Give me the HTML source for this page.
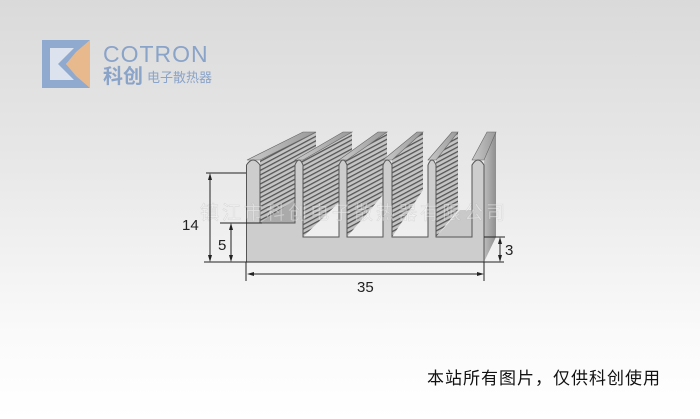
<!DOCTYPE html>
<html><head><meta charset="utf-8"><style>
html,body{margin:0;padding:0}
body{width:700px;height:419px;overflow:hidden;background:linear-gradient(#dadada 0%,#e8e8e8 40%,#fafafa 80%,#ffffff 100%);font-family:"Liberation Sans","Noto Sans CJK SC",sans-serif;position:relative}
</style></head><body>
<svg width="700" height="419" viewBox="0 0 700 419" style="position:absolute;left:0;top:0">
<defs>
<pattern id="rib" patternUnits="userSpaceOnUse" width="4" height="4" patternTransform="rotate(-28)">
<rect width="4" height="4" fill="#c4c4c4"/><rect width="4" height="1.3" fill="#555"/>
</pattern>
<linearGradient id="top" x1="0" y1="0" x2="1" y2="0"><stop offset="0" stop-color="#c8c8c8"/><stop offset="1" stop-color="#9a9a9a"/></linearGradient>
<linearGradient id="rside" x1="0" y1="0" x2="1" y2="0"><stop offset="0" stop-color="#bdbdbd"/><stop offset="1" stop-color="#8e8e8e"/></linearGradient>
</defs>
<!-- logo -->
<polygon points="42,40 90,40 66,64 90,88 42,88" fill="#8fa9cf"/>
<polygon points="50,48 74,48 58,64 74,80 50,80" fill="#dde3ee"/>
<polygon points="76,52 90,40 90,88 76,76 66,64" fill="#e8b98d"/>
<text x="103" y="62" font-size="23" fill="#8aa3c8" font-family="Liberation Sans,sans-serif" letter-spacing="1">COTRON</text>
<text x="103" y="83" font-size="20" font-weight="bold" fill="#8aa3c8" font-family="Liberation Sans,'Noto Sans CJK SC',sans-serif">科创</text>
<text x="147" y="82" font-size="13" fill="#8aa3c8" font-family="Liberation Sans,'Noto Sans CJK SC',sans-serif">电子散热器</text>

<!-- back / base surfaces -->
<polygon points="260,223 295,223 295,196 260,196" fill="#aaa"/>
<polygon points="303,237 484,237 496,210 460,210 436,237" fill="#c9c9c9"/>
<!-- side ribbed faces -->
<polygon points="260,160 316,132 316,186 260,223" fill="url(#rib)"/>
<polygon points="303,160 352,132 352,190 303,237" fill="url(#rib)"/>
<polygon points="347,160 387,132 387,190 347,237" fill="url(#rib)"/>
<polygon points="392,160 423,132 423,190 392,237" fill="url(#rib)"/>
<polygon points="436,160 458,132 458,210 436,237" fill="url(#rib)"/>
<polygon points="484,160 496,132 496,237 484,262" fill="url(#rside)"/>
<!-- top faces -->
<g stroke="#666" stroke-width="0.6">
<polygon points="247,160 303,132 316,132 260,160" fill="url(#top)"/>
<polygon points="295,160 343,132 352,132 303,160" fill="url(#top)"/>
<polygon points="339,160 378,132 387,132 347,160" fill="url(#top)"/>
<polygon points="383,160 417,132 423,132 392,160" fill="url(#top)"/>
<polygon points="428,160 452,132 458,132 436,160" fill="url(#top)"/>
<polygon points="472,160 487,132 496,132 484,160" fill="url(#top)"/>
</g>
<!-- front face -->
<path d="M246.5,262 L246.5,165 Q253,155 260,165 L260,223 L295,223 L295,165 Q299,155 303,165 L303,237 L339,237 L339,165 Q343,155 347,165 L347,237 L383,237 L383,165 Q387,155 392,165 L392,237 L428,237 L428,165 Q432,155 436,165 L436,237 L472,237 L472,165 Q478,155 484,165 L484,262 Z" fill="#cdcdcd" stroke="#555" stroke-width="1"/>
<!-- watermark -->
<text x="200" y="219" font-size="19" fill="#ffffff" fill-opacity="0.4" stroke="#999" stroke-opacity="0.25" stroke-width="0.6" font-family="Liberation Sans,'Noto Sans CJK SC',sans-serif" textLength="305">镇江市科创电子散热器有限公司</text>
<!-- dimension lines -->
<g stroke="#222" stroke-width="1" fill="none">
<line x1="206" y1="173" x2="246" y2="173"/>
<line x1="204" y1="262" x2="504" y2="262"/>
<line x1="210" y1="176" x2="210" y2="259"/>
<line x1="220" y1="223" x2="262" y2="223"/>
<line x1="231" y1="227" x2="231" y2="259"/>
<line x1="484" y1="237" x2="505" y2="237"/>
<line x1="500" y1="240" x2="500" y2="259"/>
<line x1="246" y1="262" x2="246" y2="281"/>
<line x1="484" y1="262" x2="484" y2="281"/>
<line x1="250" y1="274" x2="480" y2="274"/>
</g>
<g fill="#222">
<polygon points="210,173 208,180 212,180"/><polygon points="210,262 208,255 212,255"/>
<polygon points="231,223 229,230 233,230"/><polygon points="231,262 229,255 233,255"/>
<polygon points="500,237 498,244 502,244"/><polygon points="500,262 498,255 502,255"/>
<polygon points="247,274 254,272 254,276"/><polygon points="484,274 477,272 477,276"/>
</g>
<g font-family="Liberation Sans,sans-serif" font-size="15" fill="#222">
<text x="182" y="230">14</text>
<text x="218" y="250">5</text>
<text x="505" y="255">3</text>
<text x="357" y="292">35</text>
</g>
<text x="427" y="384" font-size="17" fill="#111" font-family="Liberation Sans,'Noto Sans CJK SC',sans-serif" textLength="233">本站所有图片，仅供科创使用</text>
</svg>
</body></html>
